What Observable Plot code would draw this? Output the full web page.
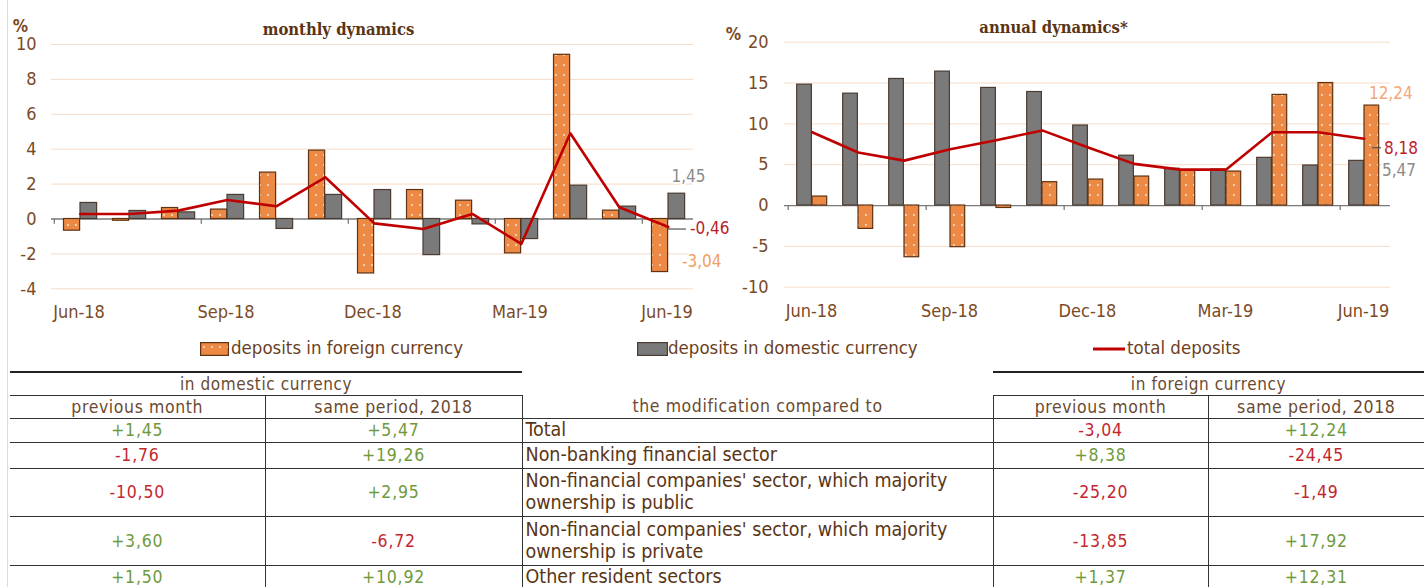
<!DOCTYPE html>
<html><head><meta charset="utf-8">
<script src="https://cdn.jsdelivr.net/npm/d3@7"></script>
<script src="https://cdn.jsdelivr.net/npm/@observablehq/plot@0.6"></script>
<style>
html,body{margin:0;padding:0;background:#fff;}
body{width:1428px;height:587px;position:relative;overflow:hidden;font-family:"DejaVu Sans Condensed","DejaVu Sans",sans-serif;}
#c1{position:absolute;left:0;top:0;}
#c2{position:absolute;left:710px;top:0;}
#border{position:absolute;left:7px;top:0;width:1px;height:587px;background:#dcdcdc;}
.leg{position:absolute;top:336px;font-size:18.5px;color:#6b3f1f;line-height:24px;white-space:nowrap;}
.sw{position:absolute;}
#tbl{position:absolute;left:10px;top:371px;border-collapse:collapse;table-layout:fixed;width:1414px;}
#tbl td{padding:0;text-align:center;font-size:17.5px;line-height:20px;color:#6b4a30;vertical-align:middle;white-space:nowrap;}
#tbl td.grp{border-top:2px solid #222;border-bottom:1.5px solid #333;letter-spacing:0.6px;font-size:17px;}
#tbl td.br{border-right:1.5px solid #333;}
#tbl tr.hd td{border-bottom:1.5px solid #333;letter-spacing:0.6px;font-size:17.5px;}
#tbl tr.dr td{border-bottom:1.5px solid #333;letter-spacing:0.8px;}
#tbl tr.dr td.lab{text-align:left;padding-left:3px;font-size:19.5px;color:#5a3515;line-height:22px;white-space:pre-line;letter-spacing:0;}
#tbl td.pos{color:#6e9a3c;}
#tbl td.neg{color:#c4262e;}
</style></head><body>
<svg width="0" height="0" style="position:absolute">
<defs>
<pattern id="dots" patternUnits="userSpaceOnUse" width="8" height="10">
<rect width="8" height="10" fill="#ec8a45"></rect>
<circle cx="4" cy="5" r="0.9" fill="#fff" opacity="0.85"></circle>
</pattern>
</defs>
</svg>
<div id="border"></div>
<div id="c1"></div>
<div id="c2"></div>
<div id="legend"></div>
<table id="tbl"></table>
<script>
// ---------- data ----------
const months = ["Jun-18","Jul-18","Aug-18","Sep-18","Oct-18","Nov-18","Dec-18","Jan-19","Feb-19","Mar-19","Apr-19","May-19","Jun-19"];
const tickMonths = ["Jun-18","Sep-18","Dec-18","Mar-19","Jun-19"];

const monthlyForeign  = [-0.67,-0.10,0.63,0.54,2.66,3.92,-3.12,1.66,1.05,-1.97,9.41,0.48,-3.04];
const monthlyDomestic = [0.92,0.46,0.38,1.38,-0.57,1.38,1.66,-2.07,-0.31,-1.15,1.91,0.71,1.45];
const monthlyTotal    = [0.29,0.29,0.48,1.09,0.73,2.39,-0.25,-0.57,0.29,-1.43,4.91,0.67,-0.46];

const annualForeign  = [1.10,-2.86,-6.33,-5.10,-0.30,2.86,3.18,3.55,4.30,4.16,13.55,15.00,12.24];
const annualDomestic = [14.80,13.70,15.50,16.40,14.40,13.90,9.80,6.10,4.50,4.40,5.84,4.90,5.47];
const annualTotal    = [8.98,6.50,5.50,6.90,8.00,9.20,7.10,5.10,4.40,4.40,8.98,8.98,8.18];

const monthlyTicks = [-4,-2,0,2,4,6,8,10];
const annualTicks = [-10,-5,0,5,10,15,20];

const legendLabels = ["deposits in foreign currency","deposits in domestic currency","total deposits"];

const groupHeaders = ["in domestic currency","in foreign currency"];
const subHeaders = ["previous month","same period, 2018","the modification compared to","previous month","same period, 2018"];
const rowLabels = ["Total","Non-banking financial sector","Non-financial companies' sector, which majority\nownership is public","Non-financial companies' sector, which majority\nownership is private","Other resident sectors"];
const domPrevMonth   = [1.45,-1.76,-10.50,3.60,1.50];
const domSamePeriod  = [5.47,19.26,2.95,-6.72,10.92];
const forPrevMonth   = [-3.04,8.38,-25.20,-13.85,1.37];
const forSamePeriod  = [12.24,-24.45,-1.49,17.92,12.31];

// ---------- helpers ----------
const FONT = '"DejaVu Sans Condensed","DejaVu Sans",sans-serif';
const TFONT = '"DejaVu Serif Condensed","DejaVu Serif",serif';
const fmt = v => (v < 0 ? "-" : "") + Math.abs(v).toFixed(2).replace(".", ",");
const fmtS = v => (v < 0 ? "-" : "+") + Math.abs(v).toFixed(2).replace(".", ",");

function chart(o) {
  const bw = (o.width - o.mL - o.mR) / months.length;
  const rows = months.map((m, i) => ({m, f: o.foreign[i], d: o.domestic[i], t: o.total[i]}));
  const last = rows[rows.length - 1];
  const [fOff, fW] = o.foreignPos, [dOff, dW] = o.domesticPos;
  const marks = [
    Plot.ruleY(o.yTicks.filter(d => d !== 0), {stroke: "#f7dcc7", strokeWidth: 1}),
    Plot.ruleY([0], {stroke: "#7a7a7a", strokeWidth: 1.3}),
    Plot.barY(rows, {x: "m", y: "f", fill: "url(#dots)", stroke: "#5e3212", strokeWidth: 1.2,
      insetLeft: fOff, insetRight: bw - fOff - fW}),
    Plot.barY(rows, {x: "m", y: "d", fill: "#7a7a7a", stroke: "#4b3b30", strokeWidth: 1.2,
      insetLeft: dOff, insetRight: bw - dOff - dW}),
    Plot.ruleX(tickMonths, {x: d => d, y1: 0, y2: o.tickLen, dx: -bw / 2, stroke: "#7a7a7a", strokeWidth: 1.3}),
    Plot.lineY(rows, {x: "m", y: "t", stroke: "#c00000", strokeWidth: 2.6, dx: o.lineDx}),
    Plot.text([o.title], {text: d => d, frameAnchor: "top", dx: o.titleDx, dy: o.titleDy, fontWeight: "bold",
      fontSize: 16.5, fill: "#5a3414", fontFamily: TFONT}),
    Plot.text(["%"], {text: d => d, frameAnchor: "top-left", textAnchor: "middle", lineAnchor: "middle",
      dx: o.pctDx, dy: o.pctDy, fontSize: 17, fill: "#7b4a26", fontWeight: "bold"})
  ];
  for (const lk of o.leaders) {
    marks.push(Plot.tickY([last], {x: "m", y: lk.key, dy: lk.dy, stroke: lk.stroke, strokeWidth: 1.2,
      insetLeft: lk.l, insetRight: lk.r}));
  }
  for (const a of o.annotations) {
    marks.push(Plot.text([last], {x: "m", y: a.key, text: d => fmt(d[a.key]), textAnchor: "start",
      dx: a.dx, dy: a.dy, fill: a.fill, fontSize: 17, stroke: "white", strokeWidth: 3, paintOrder: "stroke"}));
  }
  return Plot.plot({
    width: o.width, height: 330,
    marginLeft: o.mL, marginRight: o.mR, marginTop: o.mT, marginBottom: o.mB,
    style: {fontFamily: FONT, fontSize: "18px", color: "#7b4a26", background: "transparent", overflow: "visible"},
    x: {domain: months, padding: 0, ticks: tickMonths, tickSize: 0, tickPadding: o.xPad, label: null},
    y: {domain: o.yDomain, ticks: o.yTicks, tickSize: 0, tickPadding: o.yPad, label: null, tickFormat: d => String(d)},
    marks
  });
}

document.getElementById("c1").append(chart({
  width: 710, mL: 51, mR: 17, mT: 44, mB: 41.7,
  yDomain: [-4, 10], yTicks: monthlyTicks, xPad: 16, yPad: 15, tickLen: -0.3,
  foreign: monthlyForeign, domestic: monthlyDomestic, total: monthlyTotal,
  foreignPos: [9.5, 16.5], domesticPos: [26, 17], lineDx: 1.3,
  title: "monthly dynamics", titleDx: -34, titleDy: -21, pctDx: -31, pctDy: -18,
  leaders: [{key: "t", dy: 2, stroke: "#555", l: 26, r: 5}],
  annotations: [
    {key: "d", fill: "#8c8c8c", dx: 4.5, dy: -17},
    {key: "t", fill: "#b81d2a", dx: 23, dy: 2},
    {key: "f", fill: "#f0a060", dx: 15, dy: -11}
  ]
}));

document.getElementById("c2").append(chart({
  width: 718, mL: 74, mR: 38, mT: 41.7, mB: 43.3,
  yDomain: [-10, 20], yTicks: annualTicks, xPad: 17, yPad: 16, tickLen: -0.6,
  foreign: annualForeign, domestic: annualDomestic, total: annualTotal,
  foreignPos: [24, 15.3], domesticPos: [8.7, 15.3], lineDx: 0.7,
  title: "annual dynamics*", titleDx: -34, titleDy: -21, pctDx: -51, pctDy: -8,
  leaders: [{key: "t", dy: 9, stroke: "#555", l: 32, r: 5}],
  annotations: [
    {key: "f", fill: "#f2a97a", dx: 5.5, dy: -12},
    {key: "t", fill: "#c01f2c", dx: 20.5, dy: 10},
    {key: "d", fill: "#8a8a8a", dx: 18.5, dy: 10}
  ]
}));

// ---------- legend ----------
const leg = document.getElementById("legend");
const legItems = [
  {x: 200, sw: '<svg width="29" height="14"><rect x="0.6" y="0.6" width="27.8" height="12.8" fill="url(#dots)" stroke="#5e3212" stroke-width="1.2"/></svg>', top: 341},
  {x: 637, sw: '<svg width="31" height="14"><rect x="0.6" y="0.6" width="29.8" height="12.8" fill="#7a7a7a" stroke="#4b3b30" stroke-width="1.2"/></svg>', top: 341},
  {x: 1093, sw: '<svg width="32" height="14"><line x1="0" x2="32" y1="7" y2="7" stroke="#c00000" stroke-width="3"/></svg>', top: 341}
];
legItems.forEach((it, i) => {
  const s = document.createElement("div");
  s.className = "sw"; s.style.left = it.x + "px"; s.style.top = it.top + "px"; s.innerHTML = it.sw;
  leg.append(s);
  const t = document.createElement("div");
  t.className = "leg"; t.style.left = (it.x + (i === 2 ? 34 : 31)) + "px"; t.textContent = legendLabels[i];
  leg.append(t);
});

// ---------- table ----------
const tbl = document.getElementById("tbl");
const widths = [255, 257, 471, 215, 216];
let html = "<colgroup>" + widths.map(w => `<col style="width:${w}px">`).join("") + "</colgroup>";
html += `<tr style="height:23px"><td colspan="2" class="grp">${groupHeaders[0]}</td><td></td><td colspan="2" class="grp">${groupHeaders[1]}</td></tr>`;
html += `<tr class="hd" style="height:23px">` + subHeaders.map((h, i) => `<td class="${i < 4 ? "br" : ""}">${h}</td>`).join("") + "</tr>";
const rowH = [24, 26, 48, 49, 22];
rowLabels.forEach((lab, i) => {
  const vals = [domPrevMonth[i], domSamePeriod[i], null, forPrevMonth[i], forSamePeriod[i]];
  html += `<tr class="dr" style="height:${rowH[i]}px">` + vals.map((v, j) => {
    if (j === 2) return `<td class="lab br">${lab}</td>`;
    return `<td class="${v < 0 ? "neg" : "pos"}${j < 4 ? " br" : ""}">${fmtS(v)}</td>`;
  }).join("") + "</tr>";
});
tbl.innerHTML = html;
</script>
</body></html>
